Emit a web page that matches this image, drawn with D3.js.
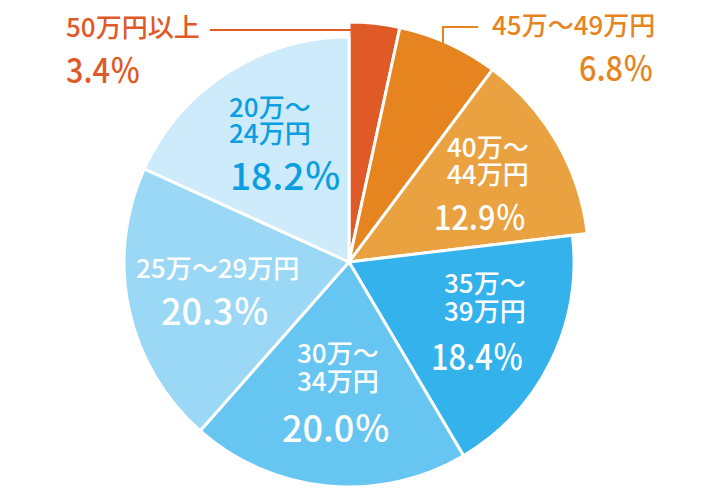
<!DOCTYPE html>
<html>
<head>
<meta charset="utf-8">
<script src="https://cdn.jsdelivr.net/npm/d3@7"></script>
<style>
  html, body { margin: 0; padding: 0; background: #fff; }
  svg { display: block; }
  text { font-family: "Noto Sans CJK JP", "Noto Sans", sans-serif; font-weight: 500; }
</style>
</head>
<body>
<svg id="chart" width="702" height="498"></svg>
<script>
// ---- data ----
const categories = ["50万円以上", "45万～49万円", "40万～44万円", "35万～39万円", "30万～34万円", "25万～29万円", "20万～24万円"];
const labelLines = [["50万円以上"], ["45万～49万円"], ["40万～", "44万円"], ["35万～", "39万円"], ["30万～", "34万円"], ["25万～29万円"], ["20万～", "24万円"]];
const values = [3.4, 6.8, 12.9, 18.4, 20.0, 20.3, 18.2];
const valueLabels = ["3.4％", "6.8％", "12.9％", "18.4％", "20.0％", "20.3％", "18.2％"];

// ---- styles / layout ----
const colors = ["#e05a28", "#e6841f", "#eaa241", "#33b2ec", "#67c6f1", "#9bd8f5", "#cdebfb"];
const textColors = ["#e05a28", "#e6841f", "#ffffff", "#ffffff", "#ffffff", "#ffffff", "#0b9ee0"];
const cx = 349, cy = 262;
const radii = [240, 240, 240, 225, 225, 225, 225];

// label layout
const layout = [
  {x: 66, ys: [37], fs: 26, vx: 66, vy: 83, vfs: 34, sx: 0.9},
  {x: 492, ys: [35], fs: 26, vx: 579, vy: 81, vfs: 34, sx: 0.9},
  {x: 447, ys: [157, 184], fs: 26, vx: 434, vy: 230, vfs: 34, sx: 0.9},
  {x: 444, ys: [293, 321], fs: 26, vx: 431, vy: 370, vfs: 35, sx: 0.88},
  {x: 297, ys: [363, 391], fs: 26, vx: 282, vy: 442, vfs: 36, sx: 1},
  {x: 136, ys: [278], fs: 26, vx: 161, vy: 325, vfs: 36, sx: 1},
  {x: 229, ys: [117, 143], fs: 26, vx: 230, vy: 190, vfs: 37, sx: 1}
];

const svg = d3.select("#chart");
const g = svg.append("g").attr("transform", `translate(${cx},${cy})`);

const pie = d3.pie().sort(null).value(d => d);
const arcs = pie(values);

g.selectAll("path.slice")
  .data(arcs)
  .join("path")
  .attr("class", "slice")
  .attr("d", (d, i) => d3.arc().innerRadius(0).outerRadius(radii[i])(d))
  .attr("fill", (d, i) => colors[i])
  .attr("stroke", "#fff")
  .attr("stroke-width", 3)
  .attr("stroke-linejoin", "round");

// leader lines
const leaders = svg.append("g").attr("fill", "none").attr("stroke-width", 2);
leaders.append("path").attr("stroke", colors[0]).attr("d", "M210,30H360");
leaders.append("path").attr("stroke", colors[1]).attr("d", "M478,27H443V50");

// labels
const lab = svg.append("g");
labelLines.forEach((lines, i) => {
  const L = layout[i];
  lines.forEach((t, j) => {
    lab.append("text")
      .attr("x", L.x).attr("y", L.ys[j])
      .attr("font-size", L.fs)
      .attr("fill", textColors[i])
      .text(t);
  });
  lab.append("text")
    .attr("transform", `translate(${L.vx},${L.vy}) scale(${L.sx},1)`)
    .attr("font-size", L.vfs)
    .attr("fill", textColors[i])
    .text(valueLabels[i]);
});
</script>
</body>
</html>
